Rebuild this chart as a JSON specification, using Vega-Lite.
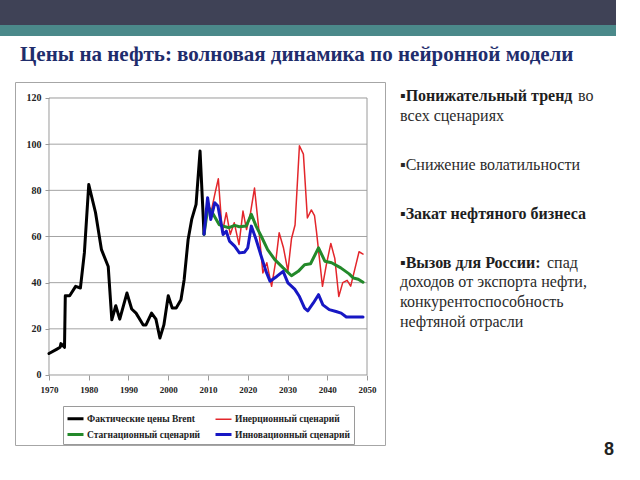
{
  "$schema": "https://vega.github.io/schema/vega-lite/v6.json",
  "padding": 0,
  "background": "white",
  "bounds": "flush",
  "spacing": 0,
  "config": {
    "view": {"stroke": null},
    "legend": {
      "orient": "none",
      "legendX": 63,
      "legendY": 406,
      "columns": 2,
      "strokeColor": "#9a9a9a",
      "padding": 3,
      "columnPadding": 8,
      "rowPadding": 0,
      "labelOffset": 2,
      "labelFont": "Liberation Serif",
      "labelFontWeight": "bold",
      "labelFontSize": 9.5,
      "labelColor": "#222222",
      "symbolType": "stroke",
      "symbolSize": 256
    }
  },
  "datasets": {
    "prices": [
      {"series": "Инерционный сценарий", "year": 2009.0, "price": 61},
      {"series": "Инерционный сценарий", "year": 2010.0, "price": 72},
      {"series": "Инерционный сценарий", "year": 2010.7, "price": 70},
      {"series": "Инерционный сценарий", "year": 2011.8, "price": 79},
      {"series": "Инерционный сценарий", "year": 2012.6, "price": 85},
      {"series": "Инерционный сценарий", "year": 2013.6, "price": 61.6},
      {"series": "Инерционный сценарий", "year": 2014.6, "price": 70.3},
      {"series": "Инерционный сценарий", "year": 2015.6, "price": 60.9},
      {"series": "Инерционный сценарий", "year": 2016.6, "price": 66},
      {"series": "Инерционный сценарий", "year": 2017.8, "price": 56.5},
      {"series": "Инерционный сценарий", "year": 2018.8, "price": 71},
      {"series": "Инерционный сценарий", "year": 2019.7, "price": 63},
      {"series": "Инерционный сценарий", "year": 2020.7, "price": 70.3},
      {"series": "Инерционный сценарий", "year": 2021.7, "price": 81},
      {"series": "Инерционный сценарий", "year": 2022.9, "price": 61},
      {"series": "Инерционный сценарий", "year": 2023.8, "price": 44.2},
      {"series": "Инерционный сценарий", "year": 2024.8, "price": 48.6},
      {"series": "Инерционный сценарий", "year": 2026.0, "price": 38.4},
      {"series": "Инерционный сценарий", "year": 2027.1, "price": 50},
      {"series": "Инерционный сценарий", "year": 2027.9, "price": 61.6},
      {"series": "Инерционный сценарий", "year": 2029.0, "price": 55},
      {"series": "Инерционный сценарий", "year": 2030.1, "price": 45},
      {"series": "Инерционный сценарий", "year": 2031.0, "price": 59},
      {"series": "Инерционный сценарий", "year": 2031.9, "price": 65},
      {"series": "Инерционный сценарий", "year": 2033.0, "price": 99.3},
      {"series": "Инерционный сценарий", "year": 2034.0, "price": 95.7},
      {"series": "Инерционный сценарий", "year": 2035.0, "price": 68},
      {"series": "Инерционный сценарий", "year": 2036.0, "price": 71.5},
      {"series": "Инерционный сценарий", "year": 2036.8, "price": 69},
      {"series": "Инерционный сценарий", "year": 2037.3, "price": 62},
      {"series": "Инерционный сценарий", "year": 2038.8, "price": 38.4},
      {"series": "Инерционный сценарий", "year": 2039.8, "price": 48},
      {"series": "Инерционный сценарий", "year": 2040.9, "price": 57},
      {"series": "Инерционный сценарий", "year": 2041.9, "price": 50.5},
      {"series": "Инерционный сценарий", "year": 2042.9, "price": 34},
      {"series": "Инерционный сценарий", "year": 2043.9, "price": 40},
      {"series": "Инерционный сценарий", "year": 2045.0, "price": 41},
      {"series": "Инерционный сценарий", "year": 2045.9, "price": 38.5},
      {"series": "Инерционный сценарий", "year": 2048.0, "price": 53.4},
      {"series": "Инерционный сценарий", "year": 2049.0, "price": 52.4},
      {"series": "Фактические цены Brent", "year": 1970.0, "price": 9.3},
      {"series": "Фактические цены Brent", "year": 1972.0, "price": 11.2},
      {"series": "Фактические цены Brent", "year": 1972.8, "price": 12.0},
      {"series": "Фактические цены Brent", "year": 1973.0, "price": 13.6},
      {"series": "Фактические цены Brent", "year": 1973.9, "price": 12.0},
      {"series": "Фактические цены Brent", "year": 1974.1, "price": 34.3},
      {"series": "Фактические цены Brent", "year": 1975.2, "price": 34.3},
      {"series": "Фактические цены Brent", "year": 1976.7, "price": 38.4},
      {"series": "Фактические цены Brent", "year": 1977.9, "price": 37.7},
      {"series": "Фактические цены Brent", "year": 1978.9, "price": 52.9},
      {"series": "Фактические цены Brent", "year": 1980.0, "price": 82.5},
      {"series": "Фактические цены Brent", "year": 1981.7, "price": 70.4},
      {"series": "Фактические цены Brent", "year": 1983.2, "price": 54.3},
      {"series": "Фактические цены Brent", "year": 1984.9, "price": 47.0},
      {"series": "Фактические цены Brent", "year": 1985.8, "price": 23.9},
      {"series": "Фактические цены Brent", "year": 1986.8, "price": 30.0},
      {"series": "Фактические цены Brent", "year": 1987.8, "price": 24.2},
      {"series": "Фактические цены Brent", "year": 1989.6, "price": 35.5},
      {"series": "Фактические цены Brent", "year": 1990.8, "price": 28.6},
      {"series": "Фактические цены Brent", "year": 1991.9, "price": 26.8},
      {"series": "Фактические цены Brent", "year": 1993.7, "price": 21.7},
      {"series": "Фактические цены Brent", "year": 1994.4, "price": 21.7},
      {"series": "Фактические цены Brent", "year": 1995.8, "price": 26.8},
      {"series": "Фактические цены Brent", "year": 1996.9, "price": 24.2},
      {"series": "Фактические цены Brent", "year": 1997.9, "price": 16.0},
      {"series": "Фактические цены Brent", "year": 1998.9, "price": 21.7},
      {"series": "Фактические цены Brent", "year": 2000.0, "price": 34.3},
      {"series": "Фактические цены Brent", "year": 2001.0, "price": 29.0},
      {"series": "Фактические цены Brent", "year": 2002.0, "price": 29.0},
      {"series": "Фактические цены Brent", "year": 2003.2, "price": 32.6},
      {"series": "Фактические цены Brent", "year": 2004.0, "price": 41.3},
      {"series": "Фактические цены Brent", "year": 2005.0, "price": 58.7},
      {"series": "Фактические цены Brent", "year": 2005.9, "price": 67.4},
      {"series": "Фактические цены Brent", "year": 2007.0, "price": 73.9},
      {"series": "Фактические цены Brent", "year": 2008.0, "price": 97.0},
      {"series": "Фактические цены Brent", "year": 2009.0, "price": 61.0},
      {"series": "Стагнационный сценарий", "year": 2009.0, "price": 61},
      {"series": "Стагнационный сценарий", "year": 2010.0, "price": 73},
      {"series": "Стагнационный сценарий", "year": 2011.1, "price": 70.3},
      {"series": "Стагнационный сценарий", "year": 2012.8, "price": 65.2},
      {"series": "Стагнационный сценарий", "year": 2013.8, "price": 64.5},
      {"series": "Стагнационный сценарий", "year": 2015.3, "price": 63.8},
      {"series": "Стагнационный сценарий", "year": 2016.7, "price": 64.8},
      {"series": "Стагнационный сценарий", "year": 2017.9, "price": 64.2},
      {"series": "Стагнационный сценарий", "year": 2019.6, "price": 64.5},
      {"series": "Стагнационный сценарий", "year": 2020.9, "price": 69.6},
      {"series": "Стагнационный сценарий", "year": 2022.1, "price": 64.5},
      {"series": "Стагнационный сценарий", "year": 2023.4, "price": 60.1},
      {"series": "Стагнационный сценарий", "year": 2025.0, "price": 54.3},
      {"series": "Стагнационный сценарий", "year": 2026.8, "price": 50},
      {"series": "Стагнационный сценарий", "year": 2028.9, "price": 46.4},
      {"series": "Стагнационный сценарий", "year": 2031.0, "price": 43},
      {"series": "Стагнационный сценарий", "year": 2032.7, "price": 44.9},
      {"series": "Стагнационный сценарий", "year": 2034.3, "price": 47.8},
      {"series": "Стагнационный сценарий", "year": 2035.8, "price": 48.2},
      {"series": "Стагнационный сценарий", "year": 2037.8, "price": 55.1},
      {"series": "Стагнационный сценарий", "year": 2039.4, "price": 49.3},
      {"series": "Стагнационный сценарий", "year": 2041.1, "price": 48.6},
      {"series": "Стагнационный сценарий", "year": 2043.4, "price": 46.4},
      {"series": "Стагнационный сценарий", "year": 2045.5, "price": 43.8},
      {"series": "Стагнационный сценарий", "year": 2046.6, "price": 42},
      {"series": "Стагнационный сценарий", "year": 2047.8, "price": 41.5},
      {"series": "Стагнационный сценарий", "year": 2049.0, "price": 40.2},
      {"series": "Инновационный сценарий", "year": 2009.0, "price": 61},
      {"series": "Инновационный сценарий", "year": 2009.9, "price": 76.8},
      {"series": "Инновационный сценарий", "year": 2010.7, "price": 67.4},
      {"series": "Инновационный сценарий", "year": 2011.7, "price": 74.6},
      {"series": "Инновационный сценарий", "year": 2012.5, "price": 73.2},
      {"series": "Инновационный сценарий", "year": 2013.8, "price": 60.9},
      {"series": "Инновационный сценарий", "year": 2014.6, "price": 62.3},
      {"series": "Инновационный сценарий", "year": 2015.4, "price": 58.0},
      {"series": "Инновационный сценарий", "year": 2016.7, "price": 55.8},
      {"series": "Инновационный сценарий", "year": 2017.9, "price": 52.9},
      {"series": "Инновационный сценарий", "year": 2019.2, "price": 53.2},
      {"series": "Инновационный сценарий", "year": 2020.0, "price": 55.1},
      {"series": "Инновационный сценарий", "year": 2020.9, "price": 64.5},
      {"series": "Инновационный сценарий", "year": 2022.1, "price": 58.7},
      {"series": "Инновационный сценарий", "year": 2023.4, "price": 51.4},
      {"series": "Инновационный сценарий", "year": 2024.6, "price": 44.9},
      {"series": "Инновационный сценарий", "year": 2025.6, "price": 40.6},
      {"series": "Инновационный сценарий", "year": 2027.3, "price": 42.7},
      {"series": "Инновационный сценарий", "year": 2028.9, "price": 44.9},
      {"series": "Инновационный сценарий", "year": 2030.1, "price": 39.9},
      {"series": "Инновационный сценарий", "year": 2031.8, "price": 37.2},
      {"series": "Инновационный сценарий", "year": 2033.0, "price": 34.0},
      {"series": "Инновационный сценарий", "year": 2034.3, "price": 29.0},
      {"series": "Инновационный сценарий", "year": 2035.1, "price": 27.8},
      {"series": "Инновационный сценарий", "year": 2036.5, "price": 31.2},
      {"series": "Инновационный сценарий", "year": 2037.8, "price": 34.8},
      {"series": "Инновационный сценарий", "year": 2038.9, "price": 30.4},
      {"series": "Инновационный сценарий", "year": 2040.5, "price": 28.3},
      {"series": "Инновационный сценарий", "year": 2042.2, "price": 27.5},
      {"series": "Инновационный сценарий", "year": 2043.5, "price": 26.8},
      {"series": "Инновационный сценарий", "year": 2044.8, "price": 25.1},
      {"series": "Инновационный сценарий", "year": 2049.0, "price": 25.1}
    ],
    "grid": [{"v": 20}, {"v": 40}, {"v": 60}, {"v": 80}, {"v": 100}],
    "notes": [
      {"line": 0, "kind": "head", "text": "▪Понижательный тренд"},
      {"line": 0, "kind": "tail1", "text": "во"},
      {"line": 2, "kind": "body", "text": " всех сценариях"},
      {"line": 7, "kind": "body", "text": "▪Снижение волатильности"},
      {"line": 12, "kind": "head", "text": "▪Закат нефтяного бизнеса"},
      {"line": 17, "kind": "head", "text": "▪Вызов для России:"},
      {"line": 17, "kind": "tail2", "text": "спад"},
      {"line": 19, "kind": "body", "text": " доходов от экспорта нефти,"},
      {"line": 21, "kind": "body", "text": " конкурентоспособность"},
      {"line": 23, "kind": "body", "text": " нефтяной отрасли"}
    ]
  },
  "vconcat": [
    {
      "width": 616, "height": 25,
      "view": {"fill": "#3f4256", "stroke": null},
      "data": {"values": [{}]},
      "mark": "text",
      "encoding": {"text": {"value": ""}}
    },
    {
      "width": 616, "height": 11,
      "view": {"fill": "#4b898a", "stroke": null},
      "data": {"values": [{}]},
      "mark": "text",
      "encoding": {"text": {"value": ""}}
    },
    {
      "width": 616, "height": 46,
      "data": {"values": [{}]},
      "mark": "text",
      "encoding": {"text": {"value": ""}}
    },
    {
      "spacing": 0,
      "bounds": "flush",
      "hconcat": [
        {
          "width": 15, "height": 363,
          "data": {"values": [{}]},
          "mark": "text",
          "encoding": {"text": {"value": ""}}
        },
        {
          "width": 370, "height": 363,
          "view": {"stroke": "#a6a6a6", "strokeWidth": 1},
          "title": {
            "text": "Цены на нефть: волновая динамика по нейронной модели",
            "anchor": "start", "frame": "group", "dx": 5, "offset": 0,
            "baseline": "alphabetic",
            "font": "Liberation Serif", "fontSize": 21, "fontWeight": "bold",
            "color": "#1f2d6c"
          },
          "layer": [
            {
              "data": {"name": "grid"},
              "mark": {"type": "rule", "color": "#a3a3a3", "strokeWidth": 1},
              "encoding": {
                "x": {"datum": 1970, "type": "quantitative",
                  "scale": {"domain": [1961.447, 2054.528], "nice": false, "zero": false},
                  "axis": {"title": null, "orient": "bottom", "offset": -70, "values": [1970, 1980, 1990, 2000, 2010, 2020, 2030, 2040, 2050], "format": "d", "domain": false, "grid": false, "ticks": true, "tickSize": 5, "tickColor": "#9a9a9a", "labelPadding": 5, "labelFont": "Liberation Serif", "labelFontWeight": "bold", "labelFontSize": 9, "labelColor": "#222222"}},
                "x2": {"datum": 2050},
                "y": {"field": "v", "type": "quantitative",
                  "scale": {"domain": [-30.325, 126.93], "nice": false, "zero": false},
                  "axis": {"title": null, "orient": "left", "offset": -34, "values": [0, 20, 40, 60, 80, 100, 120], "domain": false, "grid": false, "ticks": true, "tickSize": 4, "tickColor": "#9a9a9a", "labelPadding": 4, "labelFont": "Liberation Serif", "labelFontWeight": "bold", "labelFontSize": 10, "labelColor": "#222222"}}
              }
            },
            {
              "data": {"values": [{}]},
              "mark": {"type": "rect", "fill": "transparent", "stroke": "#9a9a9a", "strokeWidth": 1},
              "encoding": {
                "x": {"datum": 1970, "type": "quantitative", "scale": {"domain": [1961.447, 2054.528], "nice": false, "zero": false}},
                "x2": {"datum": 2050},
                "y": {"datum": 0, "type": "quantitative", "scale": {"domain": [-30.325, 126.93], "nice": false, "zero": false}},
                "y2": {"datum": 120}
              }
            },
            {
              "data": {"name": "prices"},
              "mark": {"type": "line", "strokeJoin": "round", "strokeCap": "round"},
              "encoding": {
                "x": {"field": "year", "type": "quantitative", "scale": {"domain": [1961.447, 2054.528], "nice": false, "zero": false}},
                "y": {"field": "price", "type": "quantitative", "scale": {"domain": [-30.325, 126.93], "nice": false, "zero": false}},
                "color": {"field": "series", "type": "nominal",
                  "scale": {"domain": ["Фактические цены Brent", "Стагнационный сценарий", "Инерционный сценарий", "Инновационный сценарий"], "range": ["#000000", "#23892a", "#e3262b", "#1717c4"]},
                  "legend": {"title": null}},
                "strokeWidth": {"field": "series", "type": "nominal",
                  "scale": {"type": "ordinal", "domain": ["Фактические цены Brent", "Стагнационный сценарий", "Инерционный сценарий", "Инновационный сценарий"], "range": [3, 3, 1.5, 3]},
                  "legend": {"title": null}}
              }
            }
          ]
        },
        {
          "width": 15, "height": 363,
          "data": {"values": [{}]},
          "mark": "text",
          "encoding": {"text": {"value": ""}}
        },
        {
          "width": 214, "height": 360,
          "title": {"text": "8", "orient": "bottom", "anchor": "end", "offset": 13, "baseline": "alphabetic", "font": "Liberation Sans", "fontSize": 18, "fontWeight": "bold", "color": "#222222"},
          "data": {"name": "notes"},
          "encoding": {
            "x": {"datum": 0, "type": "quantitative", "scale": {"domain": [0, 1], "nice": false}, "axis": null},
            "y": {"field": "line", "type": "quantitative", "scale": {"domain": [-1.448, 35.27], "reverse": true, "nice": false, "zero": false}, "axis": null},
            "text": {"field": "text"}
          },
          "layer": [
            {"transform": [{"filter": "datum.kind === 'head'"}],
             "mark": {"type": "text", "align": "left", "baseline": "middle", "font": "Liberation Serif", "fontSize": 16, "fontWeight": "bold", "color": "#1e1e1e"}},
            {"transform": [{"filter": "datum.kind === 'body'"}],
             "mark": {"type": "text", "align": "left", "baseline": "middle", "font": "Liberation Serif", "fontSize": 16, "color": "#2a2a2a"}},
            {"transform": [{"filter": "datum.kind === 'tail1'"}],
             "mark": {"type": "text", "align": "left", "baseline": "middle", "dx": 178, "font": "Liberation Serif", "fontSize": 16, "color": "#2a2a2a"}},
            {"transform": [{"filter": "datum.kind === 'tail2'"}],
             "mark": {"type": "text", "align": "left", "baseline": "middle", "dx": 147, "font": "Liberation Serif", "fontSize": 16, "color": "#2a2a2a"}}
          ]
        }
      ]
    }
  ]
}
